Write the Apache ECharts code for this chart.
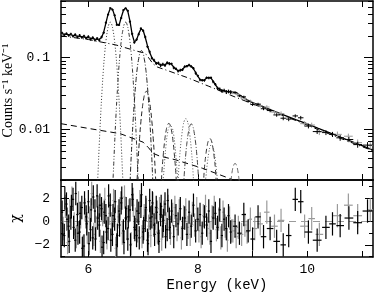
<!DOCTYPE html>
<html><head><meta charset="utf-8">
<script src="https://cdn.jsdelivr.net/npm/echarts@6/dist/echarts.min.js"></script>
<style>html,body{margin:0;padding:0;background:#fff}#c{width:374px;height:297px}</style>
</head><body><div id="c"></div>
<script>
// ---- axis ticks / labels ----
const xTicks = [6,7,8,9,10,11];
const xLabels = [6,8,10];
const yMajor = [0.01,0.1];
const yMinor = [0.002,0.003,0.004,0.005,0.006,0.007,0.008,0.009,0.02,0.03,0.04,0.05,0.06,0.07,0.08,0.09,0.2,0.3,0.4,0.5,0.6];
const chiMajor = [-2,0,2];
const chiMinor = [-3,-1,1,3];

// ---- upper panel: densely binned spectrum (black) ----
const denseE = [5.52,5.56,5.60,5.64,5.68,5.72,5.76,5.80,5.84,5.88,
 5.92,5.96,6.00,6.04,6.08,6.12,6.16,6.20,6.24,6.28,
 6.32,6.36,6.40,6.44,6.48,6.52,6.56,6.60,6.64,6.68,
 6.72,6.76,6.80,6.84,6.88,6.92,6.96,7.00,7.04,7.08,
 7.12,7.16,7.20,7.24,7.28,7.32,7.36,7.40,7.44,7.48,
 7.52,7.56,7.60,7.64,7.68,7.72,7.76,7.80,7.84,7.88,
 7.92,7.96,8.00,8.04,8.08,8.12,8.16,8.20,8.24,8.28,
 8.32,8.36,8.40,8.44,8.48,8.52,8.56,8.60];
const denseY = [0.220,0.206,0.216,0.202,0.213,0.198,0.209,0.193,0.204,0.190,
 0.200,0.185,0.196,0.180,0.190,0.175,0.185,0.174,0.193,0.222,
 0.305,0.395,0.488,0.462,0.386,0.285,0.284,0.354,0.457,0.482,
 0.447,0.315,0.214,0.162,0.178,0.211,0.254,0.236,0.193,0.142,
 0.120,0.098,0.092,0.083,0.084,0.078,0.081,0.078,0.085,0.082,
 0.082,0.072,0.070,0.065,0.067,0.068,0.075,0.076,0.079,0.075,
 0.071,0.061,0.056,0.049,0.0485,0.0482,0.0528,0.0522,0.0527,0.0462,
 0.0425,0.0374,0.0364,0.0346,0.0349,0.0336,0.0339,0.0331];
const denseErr = [0.008,0.008,0.008,0.008,0.008,0.008,0.008,0.008,0.008,0.008,
 0.008,0.008,0.008,0.008,0.008,0.008,0.008,0.008,0.008,0.009,
 0.011,0.012,0.013,0.013,0.012,0.010,0.010,0.012,0.013,0.013,
 0.013,0.011,0.008,0.007,0.007,0.008,0.009,0.009,0.008,0.006,
 0.005,0.004,0.004,0.004,0.004,0.004,0.004,0.004,0.004,0.004,
 0.003,0.003,0.003,0.003,0.003,0.003,0.003,0.003,0.003,0.003,
 0.003,0.003,0.002,0.002,0.002,0.002,0.002,0.002,0.002,0.002,
 0.002,0.002,0.002,0.002,0.002,0.002,0.002,0.002];
const denseHalfWidth = 0.02;

// ---- model (solid) ----
const modelDenseY = [0.214,0.212,0.210,0.208,0.206,0.204,0.202,0.199,0.197,0.195,
 0.193,0.191,0.189,0.186,0.184,0.181,0.179,0.180,0.190,0.225,
 0.300,0.400,0.480,0.470,0.380,0.290,0.280,0.360,0.450,0.490,
 0.440,0.320,0.210,0.165,0.175,0.215,0.250,0.240,0.190,0.145,
 0.118,0.100,0.090,0.085,0.082,0.080,0.079,0.080,0.083,0.084,
 0.080,0.074,0.069,0.066,0.066,0.069,0.074,0.077,0.078,0.076,
 0.070,0.062,0.055,0.050,0.048,0.049,0.052,0.053,0.052,0.047,
 0.042,0.038,0.036,0.035,0.0345,0.034,0.0335,0.0335];
const modelTailE = [8.70,8.80,8.90,9.00,9.20,9.40,9.60,9.80,10.00,10.20,10.40,10.60,10.80,11.00,11.20];
const modelTailY = [0.0328,0.0290,0.0260,0.0237,0.0207,0.0180,0.0157,0.0137,0.0120,0.0104,0.0091,0.0079,0.0069,0.0060,0.0052];

// ---- continua ----
const contE = [5.50,6.00,6.50,6.90,7.00,7.06,7.12,7.18,7.26,7.40,7.80,8.20,8.60,9.00,9.40,9.80,10.20,10.60,11.00,11.20];
const contY = [0.200,0.178,0.150,0.122,0.117,0.110,0.095,0.082,0.074,0.068,0.053,0.040,0.030,0.0228,0.0174,0.0133,0.0100,0.0076,0.0058,0.0051];
const cont2E = [5.50,6.00,6.58,7.00,7.10,7.18,7.30,7.60,8.09,8.58,8.80];
const cont2Y = [0.0121,0.0104,0.0088,0.0067,0.0056,0.0047,0.0043,0.0038,0.0029,0.0021,0.0018];

// ---- line components ----
const lineFe64 = [[6.15,0.0010],[6.175,0.0024],[6.20,0.0065],[6.225,0.016],[6.25,0.035],[6.275,0.069],[6.30,0.118],[6.325,0.18],[6.35,0.24],[6.375,0.29],[6.40,0.31],[6.425,0.29],[6.45,0.24],[6.475,0.18],[6.50,0.118],[6.525,0.069],[6.55,0.035],[6.575,0.016],[6.60,0.0065],[6.625,0.0024],[6.65,0.0010]];
const lineFe67 = [[6.43,0.0010],[6.455,0.0024],[6.48,0.0065],[6.505,0.016],[6.53,0.035],[6.555,0.069],[6.58,0.118],[6.605,0.18],[6.63,0.24],[6.655,0.29],[6.68,0.31],[6.705,0.29],[6.73,0.24],[6.755,0.18],[6.78,0.118],[6.805,0.069],[6.83,0.035],[6.855,0.016],[6.88,0.0065],[6.905,0.0024],[6.93,0.0010]];
const lineFe697 = [[6.75,0.0010],[6.77,0.0026],[6.795,0.0065],[6.82,0.0143],[6.845,0.0275],[6.87,0.048],[6.895,0.073],[6.92,0.097],[6.945,0.118],[6.97,0.125],[6.995,0.118],[7.02,0.097],[7.045,0.073],[7.07,0.048],[7.095,0.0275],[7.12,0.0143],[7.145,0.0065],[7.17,0.0026],[7.19,0.0010]];
const lineFeKb = [[6.86,0.0012],[6.885,0.0018],[6.91,0.0039],[6.935,0.0075],[6.96,0.013],[6.985,0.0197],[7.01,0.0267],[7.035,0.032],[7.06,0.034],[7.085,0.032],[7.11,0.0267],[7.135,0.0197],[7.16,0.013],[7.185,0.0075],[7.21,0.0039],[7.235,0.0018],[7.26,0.0012]];
const lineNi = [[7.30,0.0012],[7.32,0.0014],[7.345,0.0027],[7.37,0.0046],[7.395,0.0071],[7.42,0.0096],[7.445,0.0115],[7.47,0.0122],[7.495,0.0115],[7.52,0.0096],[7.545,0.0071],[7.57,0.0046],[7.595,0.0027],[7.62,0.0014],[7.64,0.0012]];
const lineNi2 = [[7.33,0.0012],[7.37,0.0022],[7.395,0.0038],[7.42,0.0062],[7.445,0.0088],[7.47,0.0106],[7.50,0.0113],[7.53,0.0106],[7.555,0.0088],[7.58,0.0062],[7.605,0.0038],[7.63,0.0022],[7.67,0.0012]];
const line778 = [[7.61,0.0012],[7.63,0.0016],[7.655,0.0031],[7.68,0.0054],[7.705,0.0082],[7.73,0.0112],[7.755,0.0134],[7.78,0.0142],[7.805,0.0134],[7.83,0.0112],[7.855,0.0082],[7.88,0.0054],[7.905,0.0031],[7.93,0.0016],[7.95,0.0012]];
const line788 = [[7.71,0.0012],[7.73,0.0014],[7.755,0.0026],[7.78,0.0046],[7.805,0.007],[7.83,0.0094],[7.855,0.0113],[7.88,0.012],[7.905,0.0113],[7.93,0.0094],[7.955,0.007],[7.98,0.0046],[8.005,0.0026],[8.03,0.0014],[8.05,0.0012]];
const line822 = [[8.07,0.0013],[8.095,0.0016],[8.12,0.0029],[8.145,0.0044],[8.17,0.0059],[8.195,0.0071],[8.22,0.0075],[8.245,0.0071],[8.27,0.0059],[8.295,0.0044],[8.32,0.0029],[8.345,0.0016],[8.37,0.0013]];
const line825 = [[8.11,0.0013],[8.15,0.0023],[8.175,0.0035],[8.20,0.0048],[8.225,0.0058],[8.25,0.0062],[8.275,0.0058],[8.30,0.0048],[8.325,0.0035],[8.35,0.0023],[8.39,0.0013]];
const line868 = [[8.57,0.0015],[8.605,0.0020],[8.63,0.0027],[8.655,0.0032],[8.68,0.0034],[8.705,0.0032],[8.73,0.0027],[8.755,0.0020],[8.79,0.0015]];

// ---- sparse spectrum points (black / gray) ----
const blackSpE = [8.68,8.76,8.84,8.92,9.00,9.10,9.20,9.32,9.44,9.56,9.66,9.78,9.88,10.02,10.18,10.34,10.46,10.60,10.76,10.92,11.10];
const blackSpY = [0.0326,0.0294,0.0285,0.0247,0.0223,0.0226,0.0195,0.0184,0.0160,0.0144,0.0140,0.0155,0.0146,0.0112,0.0094,0.0091,0.0086,0.0077,0.0073,0.0062,0.0061];
const blackSpErr = [0.0012,0.0011,0.0011,0.0010,0.0010,0.0010,0.0009,0.0010,0.0009,0.0009,0.0009,0.0008,0.0009,0.0008,0.0007,0.0007,0.0007,0.0007,0.0006,0.0006,0.0006];
const blackSpHW = [0.04,0.04,0.04,0.04,0.04,0.05,0.05,0.06,0.06,0.05,0.05,0.05,0.05,0.07,0.08,0.07,0.06,0.07,0.08,0.08,0.09];
const blackSpChi = [-0.4,-1.0,0.6,-0.8,-1.5,0.4,-1.3,-0.6,-1.7,-2.0,-1.2,1.9,1.7,-0.9,-1.6,-0.5,-0.2,-0.35,0.3,-0.1,0.9];
const graySpE = [8.64,8.70,8.74,8.80,8.86,8.90,8.96,9.04,9.14,9.26,9.40,9.52,9.95,10.08,10.22,10.55,10.75,10.92,11.15];
const graySpY = [0.0323,0.0313,0.0307,0.0276,0.0269,0.0251,0.0248,0.0224,0.0214,0.0206,0.0175,0.0167,0.0121,0.0116,0.0093,0.0086,0.0081,0.0066,0.0060];
const graySpErr = [0.0013,0.0013,0.0013,0.0013,0.0012,0.0012,0.0012,0.0012,0.0012,0.0012,0.0012,0.0012,0.0010,0.0009,0.0009,0.0008,0.0007,0.0007,0.0007];
const graySpHW = [0.03,0.03,0.03,0.03,0.03,0.03,0.03,0.04,0.05,0.05,0.06,0.06,0.08,0.06,0.07,0.08,0.08,0.08,0.06];
const graySpChi = [-0.8,-1.3,-0.5,-1.1,-0.3,-0.9,0.2,-0.6,-0.2,0.8,-0.4,0.1,-0.4,0.25,-1.1,0.5,1.4,0.5,1.0];

// ---- residuals (chi) in the dense region ----
const blackDenseChi = [0.8,-1.2,1.5,-0.4,0.3,1.9,-1.6,0.6,-0.9,1.2,
 -2.1,0.4,1.7,-0.7,-1.4,0.9,2.2,-0.3,1.1,-1.8,
 0.5,-0.6,1.4,-1.1,0.2,-2.0,0.9,1.6,-0.8,0.3,
 -1.5,1.0,2.3,-0.5,-1.2,0.7,1.3,-0.9,0.1,-1.6,
 1.8,0.4,-0.3,1.2,-1.0,0.6,-0.4,1.5,-0.7,0.2,
 0.9,-1.3,0.5,-0.2,1.1,-0.6,0.3,-1.1,0.8,-0.4,
 1.4,-0.8,0.2,0.6,-1.0,0.4,-0.3,0.9,-1.7,0.3,
 0.7,-0.5,1.0,-1.2,0.2,-0.6,0.5,-0.9];
const black2E = [5.53,5.57,5.61,5.65,5.69,5.73,5.77,5.81,5.85,5.89,
 5.93,5.97,6.01,6.05,6.09,6.13,6.17,6.21,6.25,6.29,
 6.33,6.37,6.41,6.45,6.49,6.53,6.57,6.61,6.65,6.69,
 6.73,6.77,6.81,6.85,6.89,6.93,6.97,7.01,7.05,7.09,
 7.13,7.17,7.21,7.25,7.29,7.33,7.37,7.41,7.45,7.49];
const black2Chi = [-1.1,2.0,0.2,-1.7,1.3,-0.5,2.4,-1.0,0.7,-2.3,
 1.6,-0.2,-1.9,1.0,2.1,-1.5,0.3,1.4,-2.2,0.8,
 -0.9,2.2,-1.6,0.5,1.7,-1.2,-0.3,2.0,-1.8,1.1,
 0.4,-2.0,1.9,-0.7,0.9,-1.4,2.3,-0.6,1.2,-1.9,
 0.3,1.6,-1.1,0.8,-1.7,1.3,0.1,-1.3,1.8,-0.5];
const grayDenseE = [5.54,5.58,5.62,5.66,5.70,5.74,5.78,5.82,5.86,5.90,
 5.94,5.98,6.02,6.06,6.10,6.14,6.18,6.22,6.26,6.30,
 6.34,6.38,6.42,6.46,6.50,6.54,6.58,6.62,6.66,6.70,
 6.74,6.78,6.82,6.86,6.90,6.94,6.98,7.02,7.06,7.10,
 7.14,7.18,7.22,7.26,7.30,7.34,7.38,7.42,7.46,7.50,
 7.54,7.58,7.62,7.66,7.70,7.74,7.78,7.82,7.86,7.90,
 7.94,7.98,8.02,8.06,8.10,8.14,8.18,8.22,8.26,8.30,
 8.34,8.38,8.42,8.46,8.50,8.54,8.58,8.62];
const grayDenseChi = [-0.6,1.3,-1.8,0.9,2.0,-0.2,-1.3,1.6,0.4,-2.2,
 1.0,-0.9,0.3,2.4,-1.1,-0.5,1.2,-1.7,0.6,1.9,
 -1.4,0.7,-0.2,1.8,-2.3,0.4,1.1,-1.0,2.1,-0.6,
 0.9,-1.9,1.4,0.2,-0.8,1.7,-1.3,0.5,1.0,-0.4,
 -1.2,1.5,0.3,-0.9,1.1,-1.5,0.8,-0.2,1.3,-1.0,
 0.6,1.2,-0.7,0.9,-1.4,0.4,1.0,-0.5,-1.1,0.7,
 -0.3,1.1,-0.8,-1.3,0.5,1.3,-0.6,-1.0,0.4,1.2,
 -0.7,0.2,-1.4,0.8,-0.4,-1.6,0.3,-0.8];

// ---------------- build ----------------
const chart = echarts.init(document.getElementById('c'), null, {renderer:'canvas'});
const BLACK = '#000', GRAY = '#9a9a9a';
const tickFont = {fontFamily:'Liberation Mono', fontSize:13, color:'#000'};
const GL = 61, GW = 312;

function zip(xs, ys){ return xs.map((x,i)=>[x, ys[i]]); }

function errSeries(data, color, w, xi, yi, logMode, z){
  return {
    type:'custom', xAxisIndex:xi, yAxisIndex:yi, clip:true, silent:true, z:z,
    encode:{x:0,y:1}, data:data,
    renderItem:function(params, api){
      const e=api.value(0), v=api.value(1), err=api.value(2), hw=api.value(3);
      const lo = logMode ? Math.max(v-err, 1e-6) : v-err;
      const t=api.coord([e, v+err]), b=api.coord([e, lo]);
      const l=api.coord([e-hw, v]), r=api.coord([e+hw, v]);
      return {type:'group', children:[
        {type:'line', shape:{x1:t[0],y1:t[1],x2:b[0],y2:b[1]}, style:{stroke:color, lineWidth:w}},
        {type:'line', shape:{x1:l[0],y1:l[1],x2:r[0],y2:r[1]}, style:{stroke:color, lineWidth:w}}
      ]};
    }
  };
}
function lineSeries(data, type, w, color, smooth, z){
  return {type:'line', xAxisIndex:0, yAxisIndex:0, data:data, showSymbol:false, symbol:'none',
    smooth:smooth, clip:true, silent:true, z:z||2,
    lineStyle:{color:color||BLACK, width:w, type:type}};
}

const upperDense = denseE.map((e,i)=>[e, denseY[i], denseErr[i], denseHalfWidth]);
const upperBlackSp = blackSpE.map((e,i)=>[e, blackSpY[i], blackSpErr[i], blackSpHW[i]]);
const upperGraySp = graySpE.map((e,i)=>[e, graySpY[i], graySpErr[i], graySpHW[i]]);
const resBlack = denseE.map((e,i)=>[e, blackDenseChi[i], 1, denseHalfWidth])
  .concat(black2E.map((e,i)=>[e, black2Chi[i], 1, denseHalfWidth]))
  .concat(blackSpE.map((e,i)=>[e, blackSpChi[i], 1, blackSpHW[i]]));
const resGray = grayDenseE.map((e,i)=>[e, grayDenseChi[i], 1, denseHalfWidth])
  .concat(graySpE.map((e,i)=>[e, graySpChi[i], 1, graySpHW[i]]));
const modelData = zip(denseE.concat(modelTailE), modelDenseY.concat(modelTailY));

const DOT=[1,2], DASH=[5,3], DASHDOT=[5,2,1,2], DDD=[4,2,1,2,1,2];

function xAx(gi, pos, labels, name){
  const o = {type:'value', gridIndex:gi, position:pos, min:5.5, max:11.2,
    axisLine:{show:true, onZero:false, lineStyle:{color:BLACK, width:1.5}},
    axisTick:{show:true, inside:true, length:6, customValues:xTicks, lineStyle:{color:BLACK, width:1}},
    axisLabel:{show:!!labels, customValues:labels||xLabels, margin:6, ...tickFont},
    splitLine:{show:false}};
  if (name){ Object.assign(o, {name:name, nameLocation:'middle', nameGap:21, nameMoveOverlap:false,
    nameTextStyle:{fontFamily:'Liberation Mono', fontSize:14, color:'#000'}}); }
  return o;
}
function yLog(pos, ticks, len, line, labels, name){
  const o = {type:'log', logBase:10, gridIndex:0, position:pos, min:0.002, max:0.61,
    axisLine:{show:line, onZero:false, lineStyle:{color:BLACK, width:1.5}},
    axisTick:{show:true, inside:true, length:len, customValues:ticks, lineStyle:{color:BLACK, width:1}},
    axisLabel:{show:!!labels, customValues:labels||yMajor, margin:11, ...tickFont, formatter:v=>String(+(+v).toPrecision(3))},
    splitLine:{show:false}, minorTick:{show:false}};
  if (name){ Object.assign(o, {name:name, nameLocation:'middle', nameGap:46, nameRotate:90, nameMoveOverlap:false,
    nameTextStyle:{fontFamily:'Liberation Serif', fontSize:14, color:'#000'}}); }
  return o;
}
function yChi(pos, ticks, len, line, labels, name){
  const o = {type:'value', gridIndex:1, position:pos, min:-3.04, max:3.56,
    axisLine:{show:line, onZero:false, lineStyle:{color:BLACK, width:1.5}},
    axisTick:{show:true, inside:true, length:len, customValues:ticks, lineStyle:{color:BLACK, width:1}},
    axisLabel:{show:!!labels, customValues:labels||chiMajor, margin:11, ...tickFont,
      formatter:v=>String(v).replace('-','\u2212')},
    splitLine:{show:false}};
  if (name){ Object.assign(o, {name:name, nameLocation:'middle', nameGap:38, nameRotate:90, nameMoveOverlap:false,
    nameTextStyle:{fontFamily:'DejaVu Serif', fontSize:14, color:'#000'}}); }
  return o;
}

const option = {
  animation:false,
  backgroundColor:'#fff',
  grid:[
    {left:GL, width:GW, top:1, height:179, containLabel:false, outerBoundsMode:'none'},
    {left:GL, width:GW, top:180, height:77, containLabel:false, outerBoundsMode:'none'}
  ],
  xAxis:[
    xAx(0,'bottom',null), xAx(0,'top',null),
    xAx(1,'bottom',xLabels,'Energy (keV)'), xAx(1,'top',null)
  ],
  yAxis:[
    yLog('left', yMajor, 9, true, yMajor, 'Counts s\u207B\u00B9 keV\u207B\u00B9'),
    yLog('left', yMinor, 5, false, null),
    yLog('right', yMajor, 9, true, null),
    yLog('right', yMinor, 5, false, null),
    yChi('left', chiMajor, 8, true, chiMajor, '\u03C7'),
    yChi('left', chiMinor, 4, false, null),
    yChi('right', chiMajor, 8, true, null),
    yChi('right', chiMinor, 4, false, null)
  ],
  series:[
    lineSeries(zip(contE, contY), [6,3,1,3], 1, BLACK, false, 2),
    lineSeries(zip(cont2E, cont2Y), [6,4], 1, BLACK, false, 2),
    lineSeries(lineFe64, DOT, 1, '#333', true, 2),
    lineSeries(lineFe67, DDD, 1, '#333', true, 2),
    lineSeries(lineFe697, DASHDOT, 1, '#222', true, 2),
    lineSeries(lineFeKb, DASH, 1, '#222', true, 2),
    lineSeries(lineNi, DASH, 1, '#333', true, 2),
    lineSeries(lineNi2, DOT, 1, '#555', true, 2),
    lineSeries(line778, DOT, 1, '#555', true, 2),
    lineSeries(line788, DASHDOT, 1, '#444', true, 2),
    lineSeries(line822, DASH, 1, '#333', true, 2),
    lineSeries(line825, DOT, 1, '#555', true, 2),
    lineSeries(line868, DASH, 1, '#666', true, 2),
    lineSeries(modelData, 'solid', 1.3, BLACK, false, 3),
    errSeries(upperGraySp, GRAY, 1, 0, 0, true, 4),
    errSeries(upperDense, BLACK, 1.2, 0, 0, true, 5),
    errSeries(upperBlackSp, BLACK, 1, 0, 0, true, 5),
    Object.assign(errSeries(resGray, GRAY, 1.2, 2, 4, false, 4), {
      markLine:{silent:true, symbol:'none', label:{show:false},
        lineStyle:{color:GRAY, type:[7,5], width:1.2}, data:[{yAxis:0}]}
    }),
    errSeries(resBlack, BLACK, 1.2, 2, 4, false, 5)
  ]
};
chart.setOption(option);
</script>
</body></html>
